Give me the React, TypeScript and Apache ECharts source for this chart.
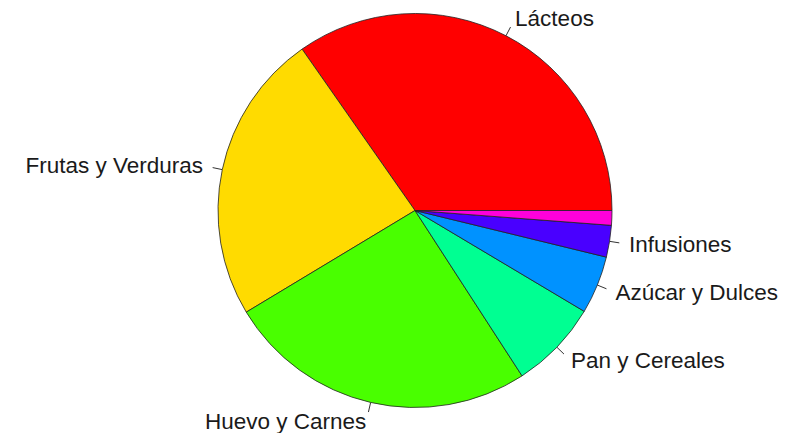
import React, { useEffect, useRef } from "react";
import * as echarts from "echarts";

const categories = ["Lácteos", "Frutas y Verduras", "Huevo y Carnes", "Pan y Cereales", "Azúcar y Dulces", "Infusiones", ""];
const values = [34.7, 23.9, 25.5, 7.3, 4.75, 2.6, 1.2];
const colors = ["#FF0000", "#FFDB00", "#49FF00", "#00FF92", "#0092FF", "#4900FF", "#FF00DB"];

const CX = 415;
const CY = 210.5;
const R = 197;

export default function App() {
  const ref = useRef<HTMLDivElement>(null);
  useEffect(() => {
    document.body.style.margin = "0";
    const chart = echarts.init(ref.current!, null, { renderer: "svg" });
    const data = categories.map((name, i) => ({
      name,
      value: values[i],
      itemStyle: { color: colors[i] },
      label: { show: name !== "" },
      labelLine: { show: name !== "" },
    }));
    const labelData = categories.map((name, i) => ({
      name,
      value: values[i],
      label: { show: name !== "" },
    }));
    chart.setOption({
      animation: false,
      backgroundColor: "#ffffff",
      series: [
        {
          type: "pie",
          center: [CX, CY],
          radius: R,
          startAngle: 0,
          clockwise: false,
          avoidLabelOverlap: false,
          silent: true,
          data,
          itemStyle: { borderColor: "#222", borderWidth: 0.8 },
          emphasis: { disabled: true },
          label: {
            position: "outside",
            formatter: () => " ",
            fontSize: 1,
            distanceToLabelLine: 0,
          },
          labelLine: {
            length: R * 0.05,
            length2: 0,
            lineStyle: { color: "#333", width: 1 },
          },
        },
        {
          type: "pie",
          center: [CX, CY],
          radius: R * 1.1 - 0.01,
          startAngle: 0,
          clockwise: false,
          avoidLabelOverlap: false,
          silent: true,
          z: 3,
          data: labelData,
          itemStyle: { color: "rgba(0,0,0,0)", borderWidth: 0 },
          emphasis: { disabled: true },
          label: {
            position: "outside",
            formatter: "{b}",
            fontFamily: "'Liberation Sans', Arial, sans-serif",
            fontSize: 22.5,
            color: "#1a1a1a",
            distanceToLabelLine: 0,
          },
          labelLine: { show: false, length: 0, length2: 0 },
        },
      ],
    });
    return () => chart.dispose();
  }, []);
  return <div ref={ref} style={{ width: 792, height: 433 }} />;
}
